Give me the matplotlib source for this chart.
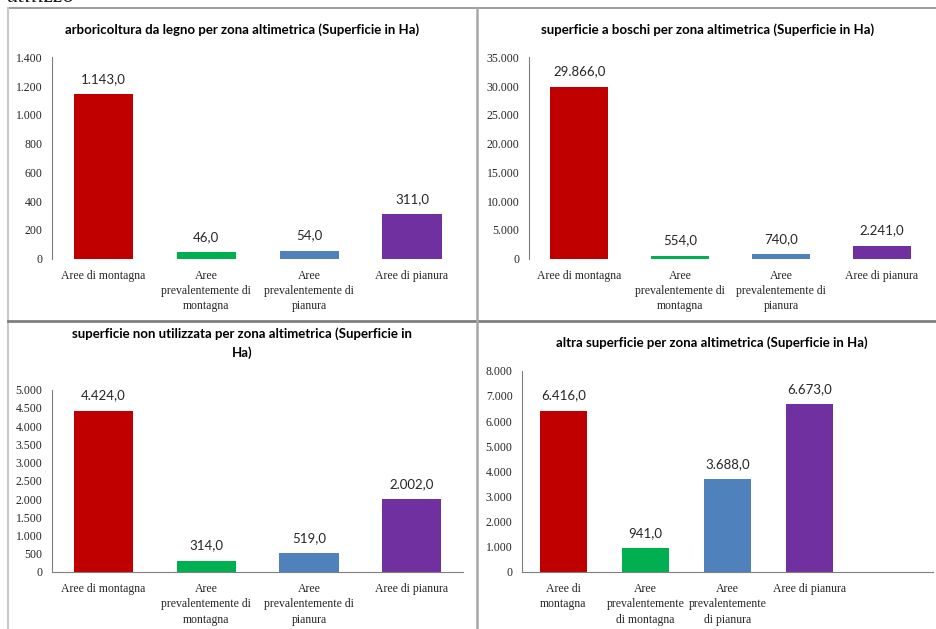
import matplotlib
matplotlib.use("Agg")
import matplotlib.pyplot as plt
from matplotlib.lines import Line2D
from matplotlib.ticker import FuncFormatter

# zone altimetriche
zone = ["Aree di montagna", "Aree prevalentemente di montagna",
        "Aree prevalentemente di pianura", "Aree di pianura"]
etichette_larghe = ["Aree di montagna", "Aree\nprevalentemente di\nmontagna",
                    "Aree\nprevalentemente di\npianura", "Aree di pianura"]
etichette_strette = ["Aree di\nmontagna", "Aree\nprevalentemente\ndi montagna",
                     "Aree\nprevalentemente\ndi pianura", "Aree di pianura"]
colori = ["#C00000", "#00B050", "#4F81BD", "#7030A0"]

arboricoltura = [1143, 46, 54, 311]
boschi = [29866, 554, 740, 2241]
non_utilizzata = [4424, 314, 519, 2002]
altra = [6416, 941, 3688, 6673]

titoli = ["arboricoltura da legno per zona altimetrica (Superficie in Ha)",
          "superficie a boschi per zona altimetrica (Superficie in Ha)",
          "superficie non utilizzata per zona altimetrica (Superficie in\nHa)",
          "altra superficie per zona altimetrica (Superficie in Ha)"]
ymax = [1400, 35000, 5000, 8000]
ystep = [200, 5000, 500, 1000]

W, H = 937, 629


def migliaia(v, pos=None):
    return f"{int(round(v)):,}".replace(",", ".")


def valore(v):
    return migliaia(v) + ",0"


def fx(px):
    return px / W


def fy(py):
    return 1 - py / H


fig = plt.figure(figsize=(W / 100, H / 100), dpi=100)

# riquadri (left, right, top, bottom in pixel)
box = [(52, 463.5, 57.3, 258.7),
       (529, 932.5, 57.3, 258.7),
       (52.3, 463, 389.7, 572),
       (522.3, 932.7, 370.7, 572)]
serie = [arboricoltura, boschi, non_utilizzata, altra]
slot = [4, 4, 4, 5]
etichette = [etichette_larghe, etichette_larghe, etichette_larghe, etichette_strette]
asse_x = [False, False, True, True]
titolo_y = [30, 30, 343, 343]
titolo_x = [242, 708, 242, 712]

serif = "Liberation Serif"
sans = "Lato"

for i in range(4):
    l, r, t, b = box[i]
    ax = fig.add_axes([fx(l), fy(b), fx(r) - fx(l), fy(t) - fy(b)])
    xs = list(range(len(serie[i])))
    ax.bar(xs, serie[i], width=0.575, color=colori)
    ax.set_xlim(-0.5, slot[i] - 0.5)
    ax.set_ylim(0, ymax[i])
    ax.set_yticks(range(0, ymax[i] + 1, ystep[i]))
    ax.yaxis.set_major_formatter(FuncFormatter(migliaia))
    ax.set_xticks(xs)
    ax.set_xticklabels(etichette[i], fontfamily=serif, fontsize=8.5,
                       color="#262626", linespacing=1.36, va="top")
    for lab in ax.get_yticklabels():
        lab.set_fontfamily(serif)
        lab.set_fontsize(8.5)
        lab.set_color("#262626")
    ax.tick_params(axis="both", length=0)
    ax.tick_params(axis="y", pad=7)
    ax.tick_params(axis="x", pad=8)
    for s in ["top", "right"]:
        ax.spines[s].set_visible(False)
    ax.spines["left"].set_color("#7f7f7f")
    if asse_x[i]:
        ax.spines["bottom"].set_color("#7f7f7f")
    else:
        ax.spines["bottom"].set_visible(False)
    for x, v in zip(xs, serie[i]):
        ax.annotate(valore(v), (x, v), xytext=(0, 11), textcoords="offset points",
                    ha="center", va="center", fontfamily=sans, fontsize=9.5,
                    color="#262626")
    fig.text(fx(titolo_x[i]), fy(titolo_y[i]), titoli[i], ha="center", va="center",
             fontfamily=sans, fontweight="bold", fontsize=9.5, linespacing=1.6)

# cornici della tabella
fig.add_artist(Line2D([fx(8), 1], [fy(8), fy(8)], color="#8c8c8c", lw=1.2))
fig.add_artist(Line2D([fx(8), fx(8)], [0, fy(8)], color="#c8c8c8", lw=1.5))
fig.add_artist(Line2D([fx(8), 1], [fy(321), fy(321)], color="#808080", lw=2))
fig.add_artist(Line2D([fx(477), fx(477)], [0, fy(8)], color="#a8a8a8", lw=1.8))

# testo tagliato in alto (come nell'originale)
fig.text(fx(7), fy(2.5), "utilizzo", fontfamily=serif, fontstyle="italic",
         fontsize=17, va="baseline", ha="left", color="#1a1a1a")

fig.savefig("out.png", dpi=100)
